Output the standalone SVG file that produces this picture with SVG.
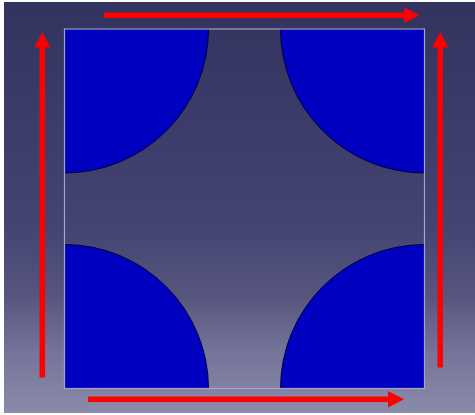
<svg xmlns="http://www.w3.org/2000/svg" width="475" height="415" viewBox="0 0 475 415">
<defs>
<linearGradient id="bg" x1="0" y1="0" x2="0" y2="1">
<stop offset="0" stop-color="#333360"/>
<stop offset="0.55" stop-color="#444473"/>
<stop offset="0.72" stop-color="#56567f"/>
<stop offset="0.85" stop-color="#74749a"/>
<stop offset="1" stop-color="#8a8aaa"/>
</linearGradient>
<style>
.q{fill:#0000c0;stroke:#00003c;stroke-width:1}
.ar{stroke:#ff0000;stroke-width:5.5;fill:none}
.hd{fill:#ff0000}
</style>
</defs>
<rect x="0" y="0" width="475" height="415" fill="#ffffff"/>
<rect x="4" y="2" width="471" height="411" fill="url(#bg)"/>
<g id="shape">
<path id="q-tl" class="q" d="M64.5 29 H208.5 A144 144 0 0 1 64.5 173 Z"/>
<path id="q-tr" class="q" d="M424.5 29 H280.5 A144 144 0 0 0 424.5 173 Z"/>
<path id="q-bl" class="q" d="M64.5 388.5 H208.5 A144 144 0 0 0 64.5 244.5 Z"/>
<path id="q-br" class="q" d="M424.5 388.5 H280.5 A144 144 0 0 1 424.5 244.5 Z"/>
<rect x="64.5" y="29" width="360" height="359.5" fill="none" stroke="#a4a4c4" stroke-width="1.2"/>
</g>
<g id="connectors">
<line class="ar" x1="104" y1="15.3" x2="405" y2="15.3"/>
<polygon class="hd" points="404,7.5 419.5,15.3 404,23.2"/>
<line class="ar" x1="42.3" y1="377.5" x2="42.3" y2="46"/>
<polygon class="hd" points="34.3,47.5 42.3,32 50.3,47.5"/>
<line class="ar" x1="440.2" y1="367.5" x2="440.2" y2="46"/>
<polygon class="hd" points="432.2,47.5 440.2,32 448.2,47.5"/>
<line class="ar" x1="88" y1="399.3" x2="389" y2="399.3"/>
<polygon class="hd" points="388,391 404,399.3 388,407.5"/>
</g>
</svg>
